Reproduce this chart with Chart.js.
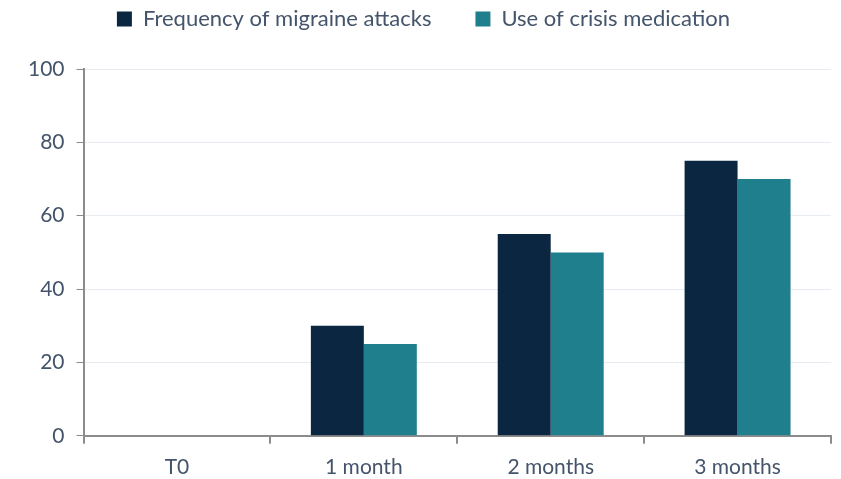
<!DOCTYPE html>
<html>
<head>
<meta charset="utf-8">
<script src="https://cdn.jsdelivr.net/npm/chart.js@4/dist/chart.umd.min.js"></script>
<style>
  html, body { margin: 0; padding: 0; background: #fff; }
  #wrap { position: relative; width: 841px; height: 479px; }
</style>
</head>
<body>
<div id="wrap"><canvas id="chart"></canvas></div>
<script>
const categories = ["T0", "1 month", "2 months", "3 months"];
const frequencyValues = [0, 30, 55, 75];
const medicationValues = [0, 25, 50, 70];
const yTicks = [0, 20, 40, 60, 80, 100];

const textColor = "#44546A";
const axisColor = "#8C8C8C";

// push the plot area down a bit below the legend
const legendMargin = {
  id: "legendMargin",
  beforeInit(chart) {
    const fit = chart.legend.fit;
    chart.legend.fit = function () {
      fit.bind(chart.legend)();
      this.height += 29;
    };
  },
};

const ctx = document.getElementById("chart").getContext("2d");
new Chart(ctx, {
  type: "bar",
  data: {
    labels: categories,
    datasets: [
      {
        label: "Frequency of migraine attacks",
        data: frequencyValues,
        backgroundColor: "#0B2641",
        borderWidth: 0,
      },
      {
        label: "Use of crisis medication",
        data: medicationValues,
        backgroundColor: "#1F7F8C",
        borderWidth: 0,
      },
    ],
  },
  plugins: [legendMargin],
  options: {
    responsive: true,
    maintainAspectRatio: false,
    animation: false,
    datasets: {
      bar: { categoryPercentage: 0.567, barPercentage: 1.0 },
    },
    layout: {
      padding: { left: 16, right: 10, top: -36, bottom: -12 },
    },
    plugins: {
      tooltip: { enabled: false },
      legend: {
        position: "top",
        labels: {
          color: textColor,
          font: { family: "Lato", size: 22 },
          boxWidth: 15,
          boxHeight: 15,
          padding: 44,
        },
      },
    },
    scales: {
      x: {
        border: { color: axisColor, width: 2 },
        grid: {
          offset: true,
          drawOnChartArea: false,
          tickColor: axisColor,
          tickLength: 8,
          lineWidth: 2,
        },
        ticks: {
          color: textColor,
          font: { family: "Lato", size: 21 },
          padding: 11,
        },
      },
      y: {
        min: 0,
        max: 100,
        afterBuildTicks: (axis) => {
          axis.ticks = yTicks.map((v) => ({ value: v }));
        },
        border: { color: axisColor, width: 2 },
        grid: {
          color: "#E6ECF2",
          lineWidth: 1,
          tickColor: axisColor,
          tickLength: 7,
        },
        ticks: {
          color: textColor,
          font: { family: "Lato", size: 21 },
          padding: 12,
        },
      },
    },
  },
});
</script>
</body>
</html>
